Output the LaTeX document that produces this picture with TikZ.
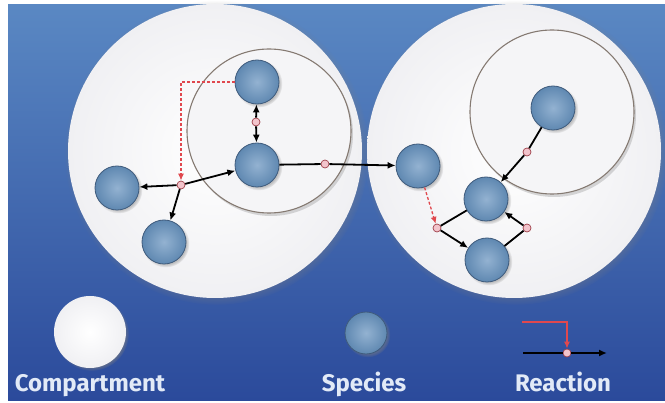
\documentclass[tikz,border=0pt]{standalone}
\usepackage{fontspec}
\setmainfont{Fira Sans}
\usetikzlibrary{arrows.meta,shadows}

\definecolor{bgtop}{HTML}{5A88C3}
\definecolor{bgbot}{HTML}{2B4A9B}
\definecolor{compfill}{HTML}{F5F5F7}
\definecolor{compedge}{HTML}{F0F0F3}
\definecolor{innerline}{HTML}{857A72}
\definecolor{spinner}{HTML}{93B2D1}
\definecolor{spouter}{HTML}{5F88B1}
\definecolor{spline}{HTML}{3F5B7C}
\definecolor{rxred}{HTML}{E0484E}
\definecolor{dotfill}{HTML}{F2C4CC}
\definecolor{dotline}{HTML}{A0404A}
\definecolor{legendtext}{HTML}{E2EAF7}

\tikzset{
  compartment/.style={circle, inner sep=0pt, inner color=white, outer color=compedge,
    circular drop shadow={shadow scale=1.035, opacity=.8}},
  subcompartment/.style={circle, inner sep=0pt, draw=innerline, line width=1.1pt,
    fill=compfill,
    drop shadow={shadow xshift=2pt, shadow yshift=-3pt, opacity=.3}},
  species/.style={circle, inner sep=0pt, minimum size=44pt, inner color=spinner,
    outer color=spouter, draw=spline, line width=.8pt,
    circular drop shadow={shadow scale=1.08, opacity=.45}},
  rxdot/.style={circle, inner sep=0pt, minimum size=8pt, fill=dotfill, draw=dotline,
    line width=.7pt},
  link/.style={line width=1.8pt},
  flow/.style={line width=1.8pt, -{Latex[length=8pt,width=7pt]}},
  modifier/.style={rxred, line width=1.3pt, densely dashed, -{Latex[length=7pt,width=6pt]}},
  legend/.style={anchor=base, text=legendtext, font=\fontsize{24}{28}\selectfont\bfseries}
}

\begin{document}
\begin{tikzpicture}[x=1pt,y=-1pt]
  \useasboundingbox (0,0) rectangle (665,403);
  \fill[white] (0,0) rectangle (665,403);
  \shade[top color=bgtop, bottom color=bgbot] (8,5) rectangle (665,401);

  % compartments
  \node[compartment, minimum size=294pt] (compL) at (215,151) {};
  \node[compartment, minimum size=294pt] (compR) at (514,151) {};
  \node[subcompartment, minimum size=164pt] (subL) at (269,131) {};
  \node[subcompartment, minimum size=164pt] (subR) at (552,112) {};

  % species
  \node[species] (spA) at (257,82) {};
  \node[species] (spB) at (257,165) {};
  \node[species] (spC) at (117,188) {};
  \node[species] (spD) at (164,242) {};
  \node[species] (spE) at (418,166) {};
  \node[species] (spF) at (553,108) {};
  \node[species] (spG) at (486,199) {};
  \node[species] (spH) at (487,260) {};

  % reactions
  \node[rxdot] (rxA) at (181,185) {};
  \node[rxdot] (rxB) at (256,122) {};
  \node[rxdot] (rxC) at (325,164) {};
  \node[rxdot] (rxD) at (527,152) {};
  \node[rxdot] (rxE) at (437,228) {};
  \node[rxdot] (rxF) at (527,228) {};

  \draw[modifier] (spA.west) -| (rxA);
  \draw[flow] (rxA) -- (spC);
  \draw[flow] (rxA) -- (spD);
  \draw[flow] (rxA) -- (spB);

  \draw[flow] (rxB) -- (spA);
  \draw[flow] (rxB) -- (spB);

  \draw[link] (spB) -- (rxC);
  \draw[flow] (rxC) -- (spE);

  \draw[link] (spF) -- (rxD);
  \draw[flow] (rxD) -- (spG);

  \draw[modifier] (spE) -- (rxE);
  \draw[link] (spG) -- (rxE);
  \draw[flow] (rxE) -- (spH);

  \draw[link] (spH) -- (rxF);
  \draw[flow] (rxF) -- (spG);

  % legend
  \node[compartment, minimum size=72pt] (lgComp) at (90,332) {};
  \node[species, minimum size=42pt] (lgSpec) at (366,333) {};
  \coordinate (lgIn) at (523,353);
  \coordinate (lgOut) at (607,353);
  \coordinate (lgMod) at (522,322);
  \node[rxdot] (lgRx) at (567,353) {};
  \draw[link] (lgIn) -- (lgRx);
  \draw[flow] (lgRx) -- (lgOut);
  \draw[modifier, solid] (lgMod) -| (lgRx);

  \node[legend] (txComp) at (90,392) {Compartment};
  \node[legend] (txSpec) at (364,392) {Species};
  \node[legend] (txReac) at (563,392) {Reaction};
\end{tikzpicture}
\end{document}
